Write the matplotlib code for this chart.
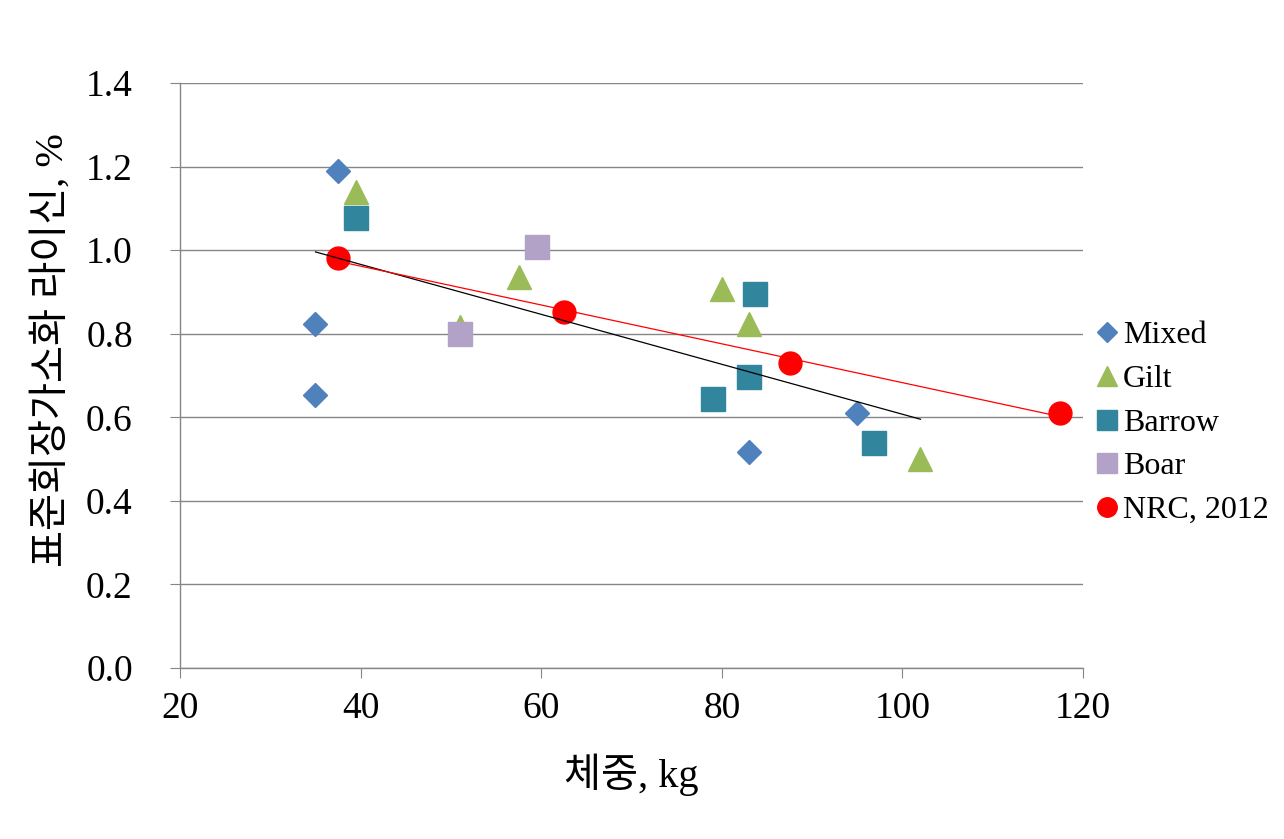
import numpy as np
import matplotlib
matplotlib.use("Agg")
import matplotlib.pyplot as plt
from matplotlib.ticker import FormatStrFormatter

FONTS = ['Liberation Serif', 'Noto Sans CJK KR', 'DejaVu Sans']
plt.rcParams['font.family'] = FONTS

# ---- data ----
mixed_x = [37.5, 35.0, 35.0, 83.0, 95.0]
mixed_y = [1.19, 0.823, 0.653, 0.517, 0.61]
gilt_x = [39.5, 51.0, 57.5, 80.0, 83.0, 102.0]
gilt_y = [1.139, 0.816, 0.936, 0.907, 0.823, 0.50]
barrow_x = [39.5, 83.7, 83.0, 79.0, 96.8]
barrow_y = [1.077, 0.895, 0.696, 0.644, 0.538]
boar_x = [59.5, 51.0]
boar_y = [1.007, 0.80]
nrc_x = [37.5, 62.5, 87.5, 117.5]
nrc_y = [0.981, 0.852, 0.73, 0.61]

labels = ['Mixed', 'Gilt', 'Barrow', 'Boar', 'NRC, 2012']
xlabel = '체중, kg'
ylabel = '표준회장가소화 라이신, %'
xticks = [20, 40, 60, 80, 100, 120]
yticks = [0.0, 0.2, 0.4, 0.6, 0.8, 1.0, 1.2, 1.4]

# ---- figure ----
fig = plt.figure(figsize=(12.84, 8.39), dpi=100)
ax = fig.add_axes([180/1284, 1-668/839, (1083-180)/1284, (668-83)/839])

gray = '#868686'
ax.plot(mixed_x, mixed_y, 'D', ms=12.2, color='#4F81BD', mec='#4F81BD', label=labels[0], zorder=3)
ax.plot(gilt_x, gilt_y, '^', ms=17, color='#9BBB59', mec='#9BBB59', label=labels[1], zorder=3)
ax.plot(barrow_x, barrow_y, 's', ms=17, color='#31859C', mec='#31859C', label=labels[2], zorder=3)
ax.plot(boar_x, boar_y, 's', ms=17, color='#B3A2C7', mec='#B3A2C7', label=labels[3], zorder=3)
ax.plot(nrc_x, nrc_y, 'o', ms=16.5, color='#FF0000', mec='#FF0000', label=labels[4], zorder=3)

# trendlines (linear fits)
all_x = np.array(mixed_x + gilt_x + barrow_x + boar_x)
all_y = np.array(mixed_y + gilt_y + barrow_y + boar_y)
p_all = np.polyfit(all_x, all_y, 1)
xs = np.array([all_x.min(), all_x.max()])
ax.plot(xs, np.polyval(p_all, xs), color='black', lw=0.9, zorder=4)
p_nrc = np.polyfit(nrc_x, nrc_y, 1)
xs2 = np.array([min(nrc_x), max(nrc_x)])
ax.plot(xs2, np.polyval(p_nrc, xs2), color='#FF0000', lw=0.9, zorder=4)

ax.set_xlim(20, 120)
ax.set_ylim(0, 1.4)
ax.set_xticks(xticks)
ax.set_yticks(yticks)
ax.yaxis.set_major_formatter(FormatStrFormatter('%.1f'))
ax.grid(axis='y', color=gray, lw=1.0)
ax.set_axisbelow(True)
for s in ['top', 'right']:
    ax.spines[s].set_visible(False)
for s in ['left', 'bottom']:
    ax.spines[s].set_color(gray)
    ax.spines[s].set_linewidth(1.0)
ax.tick_params(axis='both', direction='out', length=7, width=0.8, color=gray,
               labelsize=27, labelcolor='black')
ax.tick_params(axis='y', pad=27)
ax.tick_params(axis='x', pad=10)

ax.set_xlabel(xlabel, fontsize=29, labelpad=20)
ax.set_ylabel(ylabel, fontsize=29, labelpad=10)
ax.yaxis.label.set_y(0.544)

leg = ax.legend(loc='center left', bbox_to_anchor=(1096/1284, 1-423/839), bbox_transform=fig.transFigure,
                frameon=False, fontsize=23, handlelength=0.7, handletextpad=0.15,
                labelspacing=0.45, markerscale=0.85, borderaxespad=0, borderpad=0)

fig.savefig('out.png', dpi=100)
